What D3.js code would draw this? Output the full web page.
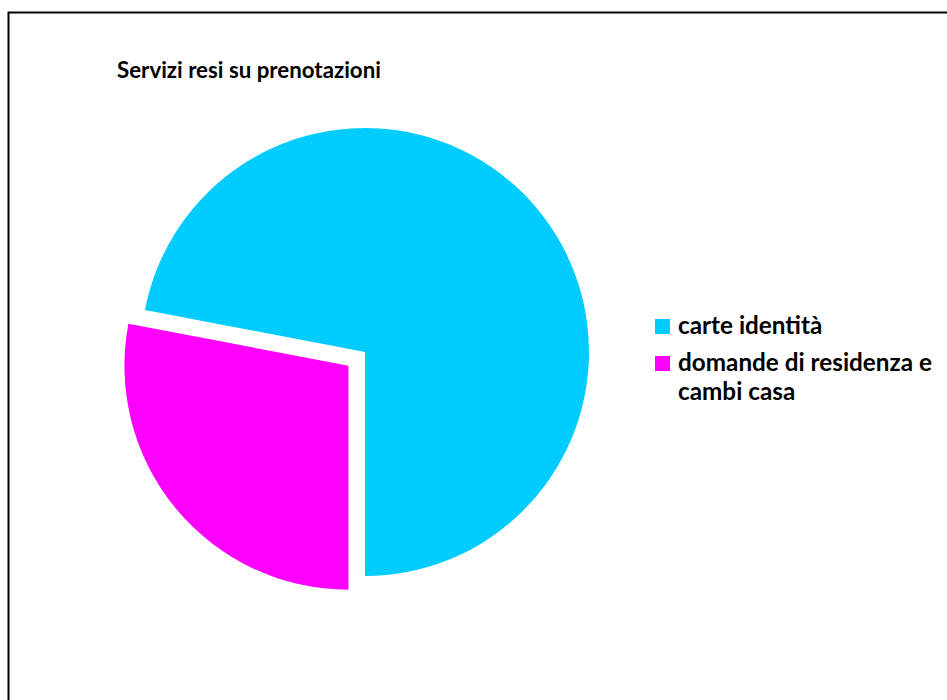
<!DOCTYPE html>
<html>
<head>
<meta charset="utf-8">
<script src="https://cdn.jsdelivr.net/npm/d3@7/dist/d3.min.js"></script>
<style>
  html, body { margin: 0; padding: 0; background: #fff; }
  svg { display: block; }
  text { font-family: Lato, "Open Sans", "Noto Sans", sans-serif; font-weight: bold; fill: #000; }
</style>
</head>
<body>
<svg id="chart" width="947" height="700"></svg>
<script>
// Prenotazioni per tipo di servizio (quote percentuali)
const categories = ["carte identità", "domande di residenza e cambi casa"];
const values = [72, 28];
const colors = ["#00CCFF", "#FF00FF"];
const legendLines = [["carte identità"], ["domande di residenza e", "cambi casa"]];
const explode = [0, 21.5];
const title = "Servizi resi su prenotazioni";

const svg = d3.select("#chart");

// chart area frame (only top and left edges fall inside the window)
svg.append("path")
  .attr("d", "M8.5,720 L8.5,12.5 L960,12.5")
  .attr("fill", "none")
  .attr("stroke", "#000")
  .attr("stroke-width", 2);

// fit a text element's font size so that it spans the given width
function fitText(sel, targetWidth, startSize) {
  sel.style("font-size", startSize + "px");
  const w = sel.node().getComputedTextLength();
  if (w > 0) sel.style("font-size", (startSize * targetWidth / w) + "px");
}

const titleText = svg.append("text")
  .attr("x", 117)
  .attr("y", 78)
  .text(title);
fitText(titleText, 264, 17);

// pie
const cx = 365, cy = 352, r = 224;
const total = d3.sum(values);
const a0 = Math.PI - 2 * Math.PI * values[0] / total;
const pie = d3.pie().sort(null).value(d => d).startAngle(a0).endAngle(a0 + 2 * Math.PI);
const arc = d3.arc().innerRadius(0).outerRadius(r);
const arcs = pie(values);

const g = svg.append("g").attr("transform", `translate(${cx},${cy})`);
g.selectAll("path.slice")
  .data(arcs)
  .join("path")
  .attr("class", "slice")
  .attr("d", arc)
  .attr("fill", (d, i) => colors[i])
  .attr("transform", (d, i) => {
    const mid = (d.startAngle + d.endAngle) / 2;
    const off = explode[i];
    return `translate(${Math.sin(mid) * off},${-Math.cos(mid) * off})`;
  });

// legend
const legendX = 655, legendTextX = 678;
const rowBaselines = [334, 371];
const lineStep = 29;
const legend = svg.append("g");
categories.forEach((c, i) => {
  legend.append("rect")
    .attr("x", legendX)
    .attr("y", rowBaselines[i] - 15)
    .attr("width", 15)
    .attr("height", 15)
    .attr("fill", colors[i]);
  legendLines[i].forEach((line, j) => {
    const t = legend.append("text")
      .attr("x", legendTextX)
      .attr("y", rowBaselines[i] + j * lineStep)
      .text(line);
    t.style("font-size", "21px");
  });
});
// size legend text so the longest line spans its measured width
const longest = legend.selectAll("text").filter(function () { return d3.select(this).text() === "domande di residenza e"; });
fitText(longest, 254, 21);
const legendSize = longest.style("font-size");
legend.selectAll("text").style("font-size", legendSize);
</script>
</body>
</html>
